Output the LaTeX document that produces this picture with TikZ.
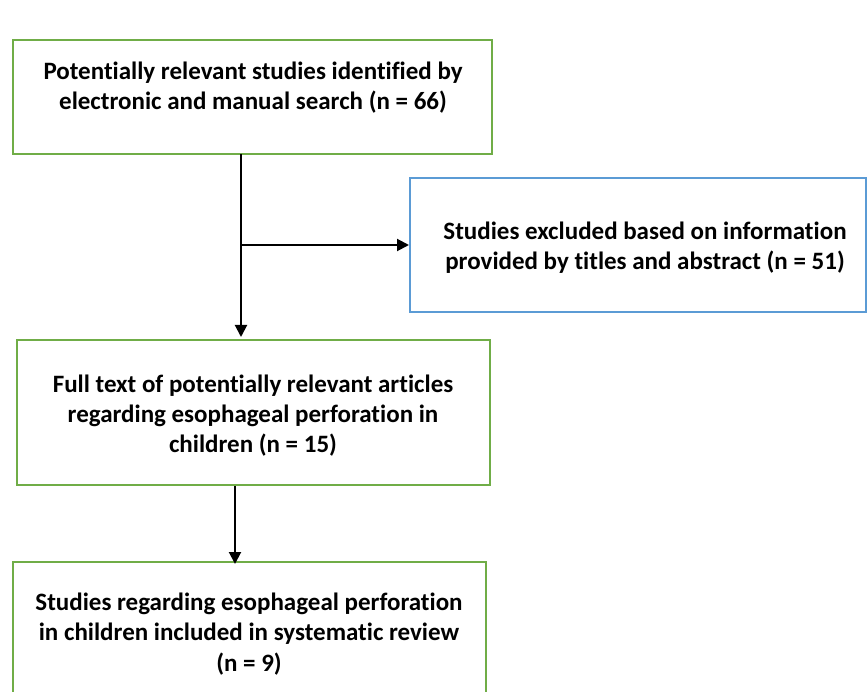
\documentclass[tikz,border=0pt]{standalone}
\usepackage{fontspec}
\setmainfont[Ligatures={NoCommon}]{Carlito}
\usetikzlibrary{arrows.meta}
\definecolor{boxgreen}{RGB}{112,173,71}
\definecolor{boxblue}{RGB}{91,155,213}
\begin{document}
\begin{tikzpicture}[x=1pt,y=-1pt,
  box/.style={draw=boxgreen,line width=2pt},
  bluebox/.style={draw=boxblue,line width=2pt},
  txt/.style={align=center,font=\bfseries\fontsize{25}{30.3}\selectfont,inner sep=0pt},
  arr/.style={line width=2pt,-{Triangle[length=12pt,width=12pt]}}]
\useasboundingbox (0,0) rectangle (868,692);
\begin{scope}
\clip (0,0) rectangle (868,692);
\draw[box] (13,40) rectangle (492,154);
\draw[bluebox] (410,178) rectangle (866,312);
\draw[box] (17,340) rectangle (490,485);
\draw[box] (13,562) rectangle (486,710);
\end{scope}
\node[txt] (t1) at (253,87.5) {Potentially relevant studies identified by\\electronic and manual search (n = 66)};
\node[txt] (t2) at (645,247.5) {Studies excluded based on information\\provided by titles and abstract (n = 51)};
\node[txt] (t3) at (253,415.5) {Full text of potentially relevant articles\\regarding esophageal perforation in\\children (n = 15)};
\node[txt] (t4) at (249,634) {Studies regarding esophageal perforation\\in children included in systematic review\\(n = 9)};
\coordinate (b1) at (241,154);
\coordinate (b3) at (241,337);
\coordinate (j) at (241,245);
\coordinate (b2) at (409,245);
\coordinate (b3b) at (235,486);
\coordinate (b4) at (235,564);
\draw[arr] (b1) -- (b3);
\draw[arr] (j) -- (b2);
\draw[arr] (b3b) -- (b4);
\end{tikzpicture}
\end{document}
